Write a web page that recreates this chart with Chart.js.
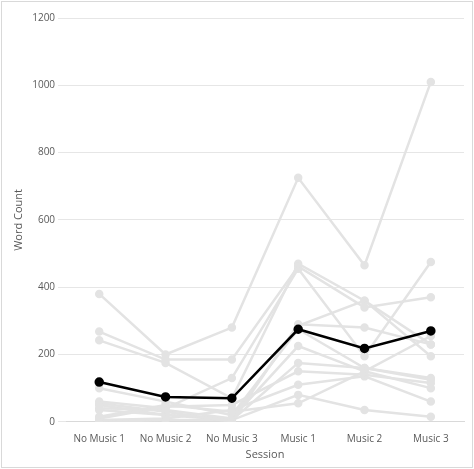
<!DOCTYPE html>
<html><head><meta charset="utf-8">
<script src="https://cdn.jsdelivr.net/npm/chart.js@4"></script>
<style>
body{margin:0;background:#fff}
#wrap{position:absolute;left:1px;top:1px;width:470px;height:465px;border:1px solid #d9d9d9}
</style></head>
<body><div id="wrap"><canvas id="c"></canvas></div>
<script>
const sessions = ['No Music 1','No Music 2','No Music 3','Music 1','Music 2','Music 3'];
const participants = [
  [380, 200, 280, 725, 465, 1010],
  [268, 185, 185, 462, 340, 370],
  [242, 175, 70, 470, 360, 195],
  [60, 40, 130, 455, 195, 475],
  [55, 30, 0, 290, 280, 230],
  [40, 35, 10, 285, 360, 230],
  [50, 20, 10, 225, 150, 100],
  [35, 20, 5, 175, 160, 125],
  [10, 45, 50, 150, 140, 115],
  [5, 10, 35, 110, 135, 60],
  [0, 5, 5, 80, 35, 15],
  [15, 50, 30, 55, 150, 255],
  [100, 60, 20, 275, 160, 130],
];
const meanCount = [118, 74, 70, 275, 218, 270];

const grey = { borderColor: '#e3e3e3', backgroundColor: '#e3e3e3', borderWidth: 2.5, pointRadius: 3, order: 2 };
new Chart(document.getElementById('c'), {
  type: 'line',
  data: {
    labels: sessions,
    datasets: participants.map((d) => ({ data: d, ...grey })).concat([{
      data: meanCount, borderColor: '#000', backgroundColor: '#000',
      borderWidth: 2.5, pointRadius: 3.5, order: 1,
    }]),
  },
  options: {
    responsive: true, maintainAspectRatio: false, animation: false,
    layout: { padding: { top: 16, right: 8, bottom: 2, left: 6 } },
    plugins: { legend: { display: false }, tooltip: { enabled: false } },
    scales: {
      x: {
        offset: true,
        grid: { display: false }, border: { color: '#d9d9d9' },
        ticks: { color: '#595959', font: { family: 'Open Sans', size: 10 } },
        title: { display: true, text: 'Session', color: '#595959', font: { family: 'Open Sans', size: 11 }, padding: { top: 0 } },
      },
      y: {
        min: 0, max: 1200,
        ticks: { stepSize: 200, color: '#595959', font: { family: 'Open Sans', size: 10 }, callback: (v) => String(v) },
        grid: { color: '#e6e6e6' }, border: { display: false },
        title: { display: true, text: 'Word Count', color: '#595959', font: { family: 'Open Sans', size: 11 } },
      },
    },
  },
});
</script></body></html>
